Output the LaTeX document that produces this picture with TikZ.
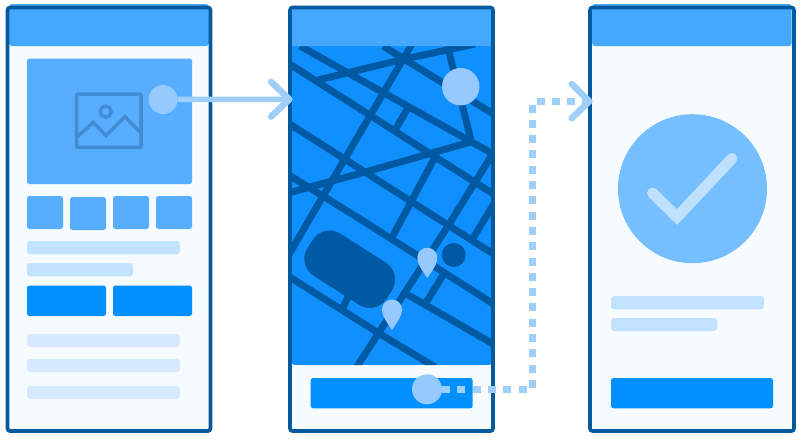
\documentclass[tikz,border=0pt]{standalone}
\usetikzlibrary{calc}
\definecolor{framec}{HTML}{045A9E}
\definecolor{headc}{HTML}{44A8FF}
\definecolor{bodyc}{HTML}{F5FBFF}
\definecolor{imgc}{HTML}{57ADFF}
\definecolor{iconc}{HTML}{438CD2}
\definecolor{barc}{HTML}{C2E2FF}
\definecolor{barl}{HTML}{D5EAFE}
\definecolor{btnc}{HTML}{0090FF}
\definecolor{mapc}{HTML}{1090FF}
\definecolor{roadc}{HTML}{005AA3}
\definecolor{accent}{HTML}{96CAFF}
\definecolor{arrowc}{HTML}{9FCFF9}
\definecolor{checkbg}{HTML}{75BEFF}
\definecolor{checkc}{HTML}{BFE0FF}
\tikzset{
  x=1pt,y=-1pt,
  screenbody/.style={fill=bodyc,rounded corners=2.5pt},
  screenline/.style={draw=framec,line width=3.6pt,rounded corners=2.5pt},
  head/.style={fill=headc,rounded corners=3pt},
  imgbox/.style={fill=imgc,rounded corners=2.5pt},
  btn/.style={fill=btnc,rounded corners=2.5pt},
  bar/.style={fill=barc,rounded corners=3pt},
  barlight/.style={fill=barl,rounded corners=3pt},
  road/.style={draw=roadc,line width=7pt},
  icon/.style={draw=iconc,line width=3.5pt},
  dot/.style={circle,fill=accent,inner sep=0pt,outer sep=0pt,minimum size=#1},
  pin/.style={fill=accent},
  link/.style={draw=arrowc,line width=5.5pt},
  tip/.style={draw=arrowc,line width=6.5pt,line cap=round,line join=round},
}
\begin{document}
\begin{tikzpicture}
\useasboundingbox (0,0) rectangle (803,440);
\fill[white] (0,0) rectangle (803,440);

% ---------- screen 1
\path[screenbody] (7.5,7.5) rectangle (210.5,431);
\path[head] (9,4) rectangle (209,46);
\path[imgbox] (27,58.5) rectangle (192,184);
\draw[icon,rounded corners=1pt] (76.7,94) rectangle (141,147.3);
\draw[icon,line width=3.3pt] (105.7,111.7) circle (5.6);
\draw[icon] (77.3,136.7) -- (93.3,122.3) -- (106,135.7) -- (125,116.7) -- (141.3,133.3);
\path[imgbox] (27,196) rectangle (63,229);
\path[imgbox] (70,197) rectangle (106,230);
\path[imgbox] (113,196) rectangle (149,229);
\path[imgbox] (156,196) rectangle (192,229);
\path[bar] (27,241) rectangle (180,254.3);
\path[bar] (27,263) rectangle (133,276.3);
\path[btn] (27,285.5) rectangle (106,316);
\path[btn] (113,285.5) rectangle (192,316);
\path[barlight] (27,334) rectangle (180,347);
\path[barlight] (27,359) rectangle (180,372);
\path[barlight] (27,386) rectangle (180,399);
\draw[screenline] (7.5,7.5) rectangle (210.5,431);

% ---------- screen 2
\path[screenbody] (290,7.5) rectangle (493,431);
\begin{scope}
  \clip[rounded corners=3pt] (291.7,30) rectangle (491.7,365);
  \fill[mapc] (291.7,30) rectangle (491.7,365);
  \draw[road] (300,46) -- (495,155);
  \draw[road] (383,46) -- (495,115);
  \draw[road] (288,63) -- (495,195);
  \draw[road] (288,123) -- (495,255);
  \draw[road] (288,174.5) -- (361.7,220) -- (495,305);
  \draw[road] (288,276) -- (381.7,335) -- (435,367);
  \draw[road] (403,292) -- (495,345);
  \draw[road] (356,368) -- (448,226) -- (495,150);
  \draw[road] (435,157) -- (391.7,238);
  \draw[road] (288,193) -- (361.7,173) -- (471.7,141.7);
  \draw[road] (318,80) -- (352,71.7) -- (400,60) -- (475,44);
  \draw[road] (412,44) -- (288,256);
  \draw[road] (409,106) -- (394,132);
  \draw[road] (447.5,46) -- (471.7,143);
  \draw[road] (495,202) -- (470,243);
  \draw[road] (445,272) -- (424,306);
  \draw[road] (348,297) -- (342,310);
  \draw[draw=roadc,fill=roadc,line width=40pt,line join=round]
    (369.77,287.93) -- (375.15,279.53) -- (329.63,250.47) -- (324.25,258.87) -- cycle;
\end{scope}
\fill[roadc] (453.7,255) circle (12);
\path[pin] (427.3,278) .. controls (422,270) and (417.3,264) .. (417.3,257.7)
   arc[start angle=180,end angle=0,radius=10,y radius=-10]
   .. controls (437.3,264) and (432.6,270) .. (427.3,278) -- cycle;
\path[pin] (392,330) .. controls (386.7,322) and (382,316) .. (382,309.5)
   arc[start angle=180,end angle=0,radius=10,y radius=-10]
   .. controls (402,316) and (397.3,322) .. (392,330) -- cycle;
\path[head,rounded corners=2pt] (291.7,9) rectangle (491.7,46);
\fill[accent] (460.7,86.7) circle (18.7);
\path[btn] (310.7,378) rectangle (472.7,408.3);
\draw[screenline] (290,7.5) rectangle (493,431);

% ---------- screen 3
\path[screenbody] (590,7.5) rectangle (794,431);
\path[head] (592,4) rectangle (791.7,46);
\fill[checkbg] (692.5,188.7) circle (74.5);
\draw[draw=checkc,line width=11pt,line cap=round,line join=miter]
  (652.5,193) -- (677,217) -- (732,158.5);
\path[bar] (611,296) rectangle (764,309.3);
\path[bar] (611,318) rectangle (717.3,331);
\path[btn] (611,378) rectangle (773,408.3);
\draw[screenline] (590,7.5) rectangle (794,431);

% ---------- connectors
\coordinate (tipa) at (289.3,99.3);
\coordinate (bka1) at (271,81.7);
\coordinate (bka2) at (271,116.7);
\coordinate (kneea) at (532.4,389.3);
\coordinate (kneeb) at (532.4,101.3);
\coordinate (tipb) at (589.3,101.3);
\coordinate (bkb1) at (571.7,84);
\coordinate (bkb2) at (571.7,118.3);
\node[dot=29pt] (starta) at (163,99.5) {};
\node[dot=30pt] (startb) at (427,389.3) {};
\draw[link] (starta) -- (tipa);
\draw[tip] (bka1) -- (tipa) -- (bka2);
\draw[link,line width=6.5pt,dash pattern=on 8pt off 7.3pt] (startb) -- (kneea) -- (kneeb) -- (tipb);
\draw[tip] (bkb1) -- (tipb) -- (bkb2);
\end{tikzpicture}
\end{document}
